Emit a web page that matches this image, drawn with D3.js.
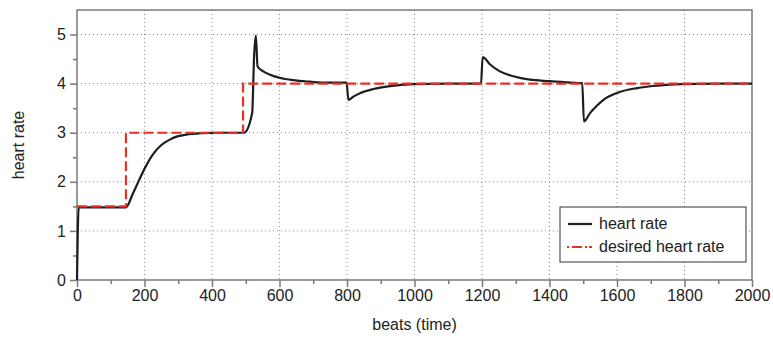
<!DOCTYPE html>
<html>
<head>
<meta charset="utf-8">
<script src="https://cdn.jsdelivr.net/npm/d3@7"></script>
<style>
  body { margin: 0; background: #fff; }
  text { font-family: "Liberation Sans", Arial, sans-serif; }
</style>
</head>
<body>
<div id="chart"></div>
<script>
const hrBeats = [0, 5, 145, 165, 185, 205, 225, 250, 275, 300, 330, 370, 420, 495, 519, 525, 530, 535, 552, 572, 600, 640, 690, 750, 799, 804, 820, 840, 878, 927, 996, 1100, 1197, 1202, 1224, 1253, 1293, 1342, 1401, 1461, 1497, 1502, 1520, 1540, 1560, 1600, 1660, 1720, 1790, 1900, 2000];
const hrValues = [0, 1.48, 1.48, 1.75, 2.05, 2.33, 2.56, 2.75, 2.86, 2.93, 2.97, 2.99, 3.0, 3.0, 3.4, 4.6, 4.98, 4.35, 4.25, 4.18, 4.12, 4.07, 4.04, 4.02, 4.02, 3.67, 3.74, 3.81, 3.89, 3.95, 3.99, 4.0, 4.0, 4.54, 4.39, 4.25, 4.15, 4.08, 4.05, 4.02, 4.01, 3.23, 3.4, 3.55, 3.67, 3.81, 3.91, 3.96, 3.99, 4.0, 4.0];

// desired heart rate (step)
const desiredBeats = [0, 145, 492, 2000];
const desiredValues = [1.5, 3, 4, 4];

const xTicks = [0, 200, 400, 600, 800, 1000, 1200, 1400, 1600, 1800, 2000];
const yTicks = [0, 1, 2, 3, 4, 5];
const legendLabels = ["heart rate", "desired heart rate"];

const margin = { top: 10, right: 21, bottom: 58, left: 77 },
      width = 773 - margin.left - margin.right,
      height = 338 - margin.top - margin.bottom;

const svg = d3.select("#chart").append("svg")
    .attr("width", 773)
    .attr("height", 338);

const g = svg.append("g")
    .attr("transform", `translate(${margin.left},${margin.top})`);

const x = d3.scaleLinear().domain([0, 2000]).range([0, width]);
const y = d3.scaleLinear().domain([0, 5.5]).range([height, 0]);

const axisColor = "#7a7a7a";

// grille pointillée
g.append("g").selectAll("line")
    .data(xTicks.slice(1, -1))
    .join("line")
    .attr("x1", d => x(d)).attr("x2", d => x(d))
    .attr("y1", 0).attr("y2", height)
    .attr("stroke", "#8a8a8a")
    .attr("stroke-width", 1)
    .attr("stroke-dasharray", "1,3");

g.append("g").selectAll("line")
    .data(yTicks.slice(1))
    .join("line")
    .attr("x1", 0).attr("x2", width)
    .attr("y1", d => y(d)).attr("y2", d => y(d))
    .attr("stroke", "#8a8a8a")
    .attr("stroke-width", 1)
    .attr("stroke-dasharray", "1,3");

// minor ticks
const xMinor = d3.range(100, 2000, 200);
const yMinor = d3.range(0.5, 5.5, 1);

const xAxis = g.append("g")
    .attr("transform", `translate(0,${height})`)
    .call(d3.axisBottom(x).tickValues(xTicks).tickSize(7).tickPadding(3).tickFormat(d3.format("d")));
const xAxisMinor = g.append("g")
    .attr("transform", `translate(0,${height})`)
    .call(d3.axisBottom(x).tickValues(xMinor).tickSize(4).tickFormat(""));

const yAxis = g.append("g")
    .call(d3.axisLeft(y).tickValues(yTicks).tickSize(7).tickPadding(4).tickFormat(d3.format("d")));
const yAxisMinor = g.append("g")
    .call(d3.axisLeft(y).tickValues(yMinor).tickSize(4).tickFormat(""));

[xAxis, xAxisMinor, yAxis, yAxisMinor].forEach(a => {
    a.select(".domain").remove();
    a.selectAll(".tick line").attr("stroke", axisColor).attr("stroke-width", 1.5);
    a.selectAll(".tick text")
        .attr("fill", "#222")
        .style("font-size", "16px")
        .style("font-family", "'Liberation Sans', Arial, sans-serif");
});

// cadre
g.append("rect")
    .attr("x", 0).attr("y", 0)
    .attr("width", width).attr("height", height)
    .attr("fill", "none")
    .attr("stroke", axisColor)
    .attr("stroke-width", 1.5);

// courbe fréquence cardiaque
const hrData = hrBeats.map((b, i) => ({ b: b, v: hrValues[i] }));
const desiredData = desiredBeats.map((b, i) => ({ b: b, v: desiredValues[i] }));

g.append("path")
    .datum(hrData)
    .attr("fill", "none")
    .attr("stroke", "#1e1e1e")
    .attr("stroke-width", 2.2)
    .attr("stroke-linejoin", "round")
    .attr("d", d3.line().x(d => x(d.b)).y(d => y(d.v)).curve(d3.curveMonotoneX));

g.append("path")
    .datum(desiredData)
    .attr("fill", "none")
    .attr("stroke", "#e8302a")
    .attr("stroke-width", 2.2)
    .attr("stroke-dasharray", "10,4")
    .attr("d", d3.line().x(d => x(d.b)).y(d => y(d.v)).curve(d3.curveStepAfter));

// titres des axes
svg.append("text")
    .attr("x", margin.left + width / 2)
    .attr("y", 330)
    .attr("text-anchor", "middle")
    .attr("fill", "#222")
    .style("font-size", "16px")
    .text("beats (time)");

svg.append("text")
    .attr("transform", `translate(24,${margin.top + height / 2}) rotate(-90)`)
    .attr("text-anchor", "middle")
    .attr("fill", "#222")
    .style("font-size", "16px")
    .text("heart rate");

// légende
const lg = svg.append("g").attr("transform", "translate(560,207)");
lg.append("rect")
    .attr("width", 186).attr("height", 55)
    .attr("fill", "#fff")
    .attr("stroke", "#333")
    .attr("stroke-width", 1);

lg.append("line")
    .attr("x1", 8).attr("x2", 32).attr("y1", 17).attr("y2", 17)
    .attr("stroke", "#1e1e1e").attr("stroke-width", 2.2);
lg.append("line")
    .attr("x1", 7).attr("x2", 33).attr("y1", 40).attr("y2", 40)
    .attr("stroke", "#e8302a").attr("stroke-width", 2.2)
    .attr("stroke-dasharray", "2,3,10,3,2");

lg.selectAll("text.legend")
    .data(legendLabels)
    .join("text")
    .attr("class", "legend")
    .attr("x", 39)
    .attr("y", (d, i) => 22 + i * 23)
    .attr("fill", "#222")
    .style("font-size", "16px")
    .text(d => d);
</script>
</body>
</html>
